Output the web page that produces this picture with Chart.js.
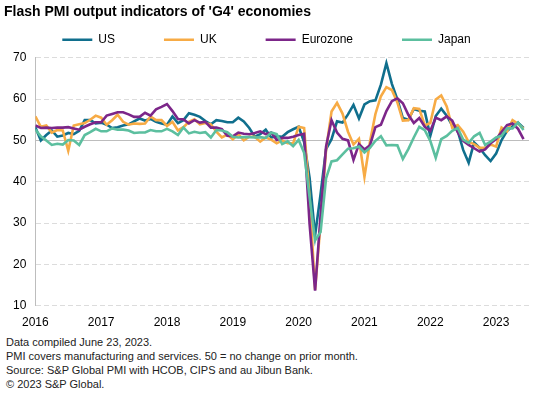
<!DOCTYPE html>
<html>
<head>
<meta charset="utf-8">
<script src="https://cdn.jsdelivr.net/npm/chart.js@4.4.0/dist/chart.umd.min.js"></script>
<style>
  body { margin: 0; background: #fff; font-family: "Liberation Sans", Arial, sans-serif; }
  #wrap { position: relative; width: 535px; height: 332px; }
  .notes { margin: 3px 0 0 6px; font-size: 11px; line-height: 14px; color: #222; }
</style>
</head>
<body>
<div id="wrap"><canvas id="pmi-chart"></canvas></div>
<div class="notes">
  <div>Data compiled June 23, 2023.</div>
  <div>PMI covers manufacturing and services. 50 = no change on prior month.</div>
  <div>Source: S&amp;P Global PMI with HCOB, CIPS and au Jibun Bank.</div>
  <div>© 2023 S&amp;P Global.</div>
</div>
<script>
// monthly, Jan 2016 .. Jun 2023
const START_YEAR = 2016;
const YEAR_TICKS = [2016, 2017, 2018, 2019, 2020, 2021, 2022, 2023];
const Y_TICKS = [10, 20, 30, 40, 50, 60, 70];

const US = [
  53.2, 50.0, 51.3, 52.4, 50.9, 51.2, 51.8, 51.5, 52.3, 54.9, 54.9, 54.1,
  54.3, 53.8, 53.0, 53.2, 53.6, 53.9, 54.6, 55.3, 54.8, 55.2, 54.5, 54.1,
  53.8, 55.8, 54.2, 54.9, 56.6, 56.2, 55.7, 54.7, 53.9, 54.9, 54.7, 54.4,
  54.4, 55.5, 54.6, 53.0, 50.9, 51.5, 52.6, 50.7, 51.0, 50.9, 52.0, 52.7,
  53.3, 49.6, 40.9, 27.0, 37.0, 47.9, 50.3, 54.6, 54.3, 56.3, 58.6, 55.3,
  58.7, 59.5, 59.7, 63.5, 68.7, 63.7, 59.9, 55.4, 55.0, 57.6, 57.2, 57.0,
  51.1, 55.9, 57.7, 56.0, 53.6, 52.3, 47.7, 44.6, 49.5, 48.2, 46.4, 45.0,
  46.8, 50.1, 52.3, 53.4, 54.3, 53.0
];
const UK = [
  55.8, 53.3, 53.6, 51.9, 52.5, 52.4, 47.5, 53.6, 53.9, 54.2, 55.0, 56.0,
  55.5, 53.8, 54.9, 56.2, 54.5, 53.8, 54.1, 54.0, 54.1, 55.8, 54.9, 54.9,
  53.5, 54.5, 52.4, 53.2, 54.5, 55.1, 53.9, 54.2, 53.9, 52.1, 50.7, 51.4,
  50.3, 51.5, 50.0, 50.9, 50.9, 49.7, 50.7, 50.2, 49.3, 50.0, 49.3, 49.3,
  53.3, 53.0, 36.0, 13.8, 30.0, 47.7, 57.0, 59.1, 56.5, 52.1, 49.0, 50.4,
  41.2, 49.6, 56.4, 60.7, 62.9, 62.2, 59.2, 54.8, 54.9, 57.8, 57.6, 53.6,
  54.2, 59.9, 60.9, 58.2, 53.1, 53.7, 52.1, 49.6, 49.1, 48.2, 48.2, 49.0,
  48.5, 53.1, 52.2, 54.9, 54.0, 52.8
];
const EUROZONE = [
  53.6, 53.0, 53.1, 53.0, 53.1, 53.1, 53.2, 52.9, 52.6, 53.3, 53.9, 54.4,
  54.4, 56.0, 56.4, 56.8, 56.8, 56.3, 55.7, 55.7, 56.7, 56.0, 57.5, 58.1,
  58.8, 57.1, 55.2, 55.1, 54.1, 54.9, 54.3, 54.5, 53.1, 53.1, 52.7, 51.1,
  51.0, 51.9, 51.6, 51.5, 51.8, 52.2, 51.5, 51.9, 50.1, 50.6, 50.6, 50.9,
  51.3, 51.6, 29.7, 13.6, 31.9, 48.5, 54.9, 51.9, 50.4, 50.0, 45.3, 49.1,
  47.8, 48.8, 53.2, 53.8, 57.1, 59.5, 60.2, 59.0, 56.2, 54.2, 55.4, 53.3,
  52.3, 55.5, 54.9, 55.8, 54.8, 52.0, 49.9, 48.9, 48.1, 47.3, 47.8, 49.3,
  50.3, 52.0, 53.7, 54.1, 52.8, 50.3
];
const JAPAN = [
  52.6, 51.0, 50.0, 48.9, 49.2, 49.0, 50.1, 50.0, 48.9, 51.3, 52.0, 52.8,
  52.2, 52.2, 52.9, 52.6, 52.6, 52.4, 51.8, 51.9, 51.9, 52.5, 52.2, 52.2,
  52.8, 52.2, 51.3, 53.1, 51.7, 52.1, 51.8, 52.0, 50.7, 52.5, 52.4, 52.0,
  50.9, 50.7, 50.8, 50.8, 50.7, 50.8, 50.6, 51.9, 51.5, 49.1, 49.8, 48.6,
  50.1, 47.0, 36.2, 25.8, 27.8, 40.8, 44.9, 45.2, 46.6, 48.0, 48.1, 48.5,
  47.1, 48.2, 49.9, 51.0, 48.8, 48.9, 48.8, 45.5, 47.9, 50.7, 53.3, 52.5,
  49.9, 45.8, 50.3, 51.1, 52.3, 53.0, 50.2, 49.4, 51.0, 51.8, 48.9, 49.7,
  50.7, 51.1, 52.9, 52.9, 54.3, 52.5
];

// later series drawn on top (order: lower = on top)
const SERIES = [
  { label: 'US', data: US, color: '#106f8d', order: 4 },
  { label: 'UK', data: UK, color: '#f7ab45', order: 3 },
  { label: 'Eurozone', data: EUROZONE, color: '#7c2689', order: 2 },
  { label: 'Japan', data: JAPAN, color: '#5cbf9f', order: 1 }
];

function toPoints(values) {
  return values.map((v, i) => ({ x: i, y: v }));
}

// legend padding is also used vertically; keep the wide horizontal gaps
// but pull the legend up and shrink its box
const compactLegend = {
  id: 'compactLegend',
  afterInit(chart) {
    const lg = chart.legend;
    if (!lg) return;
    const fit = lg.fit;
    lg.fit = function () {
      fit.call(this);
      this.height = Math.max(0, this.height - 40);
    };
    const draw = lg.draw;
    lg.draw = function () {
      this.top -= 42;
      draw.call(this);
      this.top += 42;
    };
  }
};

Chart.defaults.font.family = '"Liberation Sans", Arial, sans-serif';
Chart.defaults.font.size = 12;
Chart.defaults.color = '#000';

const ctx = document.getElementById('pmi-chart');
new Chart(ctx, {
  type: 'line',
  data: {
    datasets: SERIES.map(s => ({
      label: s.label,
      data: toPoints(s.data),
      borderColor: s.color,
      backgroundColor: s.color,
      borderWidth: 2.6,
      pointRadius: 0,
      pointStyle: 'line',
      order: s.order,
      tension: 0
    }))
  },
  plugins: [compactLegend],
  options: {
    responsive: true,
    maintainAspectRatio: false,
    animation: false,
    layout: { padding: { left: 4, right: 6, top: 2, bottom: 0 } },
    plugins: {
      title: {
        display: true,
        text: "Flash PMI output indicators of 'G4' economies",
        align: 'start',
        font: { size: 14, weight: 'bold' },
        color: '#000',
        padding: { top: 2, bottom: 6 }
      },
      legend: {
        position: 'top',
        labels: {
          usePointStyle: true,
          pointStyleWidth: 30,
          boxHeight: 3,
          padding: 49,
          font: { size: 12 },
          color: '#000',
          sort: (a, b) => a.datasetIndex - b.datasetIndex
        }
      },
      tooltip: { enabled: false }
    },
    scales: {
      x: {
        type: 'linear',
        min: 0,
        max: 90,
        grid: { display: false },
        border: { display: false },
        afterBuildTicks: axis => {
          axis.ticks = YEAR_TICKS.map(y => ({ value: (y - START_YEAR) * 12 }));
        },
        ticks: {
          maxRotation: 0,
          padding: 2,
          callback: v => String(START_YEAR + v / 12)
        }
      },
      y: {
        min: 10,
        max: 70,
        afterBuildTicks: axis => {
          axis.ticks = Y_TICKS.map(v => ({ value: v }));
        },
        grid: {
          drawTicks: false,
          color: c => (c.tick && c.tick.value === 50) ? '#bdbdbd' : '#dcdcdc',
          lineWidth: 1
        },
        border: {
          display: true,
          color: '#bdbdbd',
          dash: c => (c.tick && c.tick.value !== 50) ? [5, 3] : []
        },
        ticks: { padding: 9 }
      }
    }
  }
});
</script>
</body>
</html>
